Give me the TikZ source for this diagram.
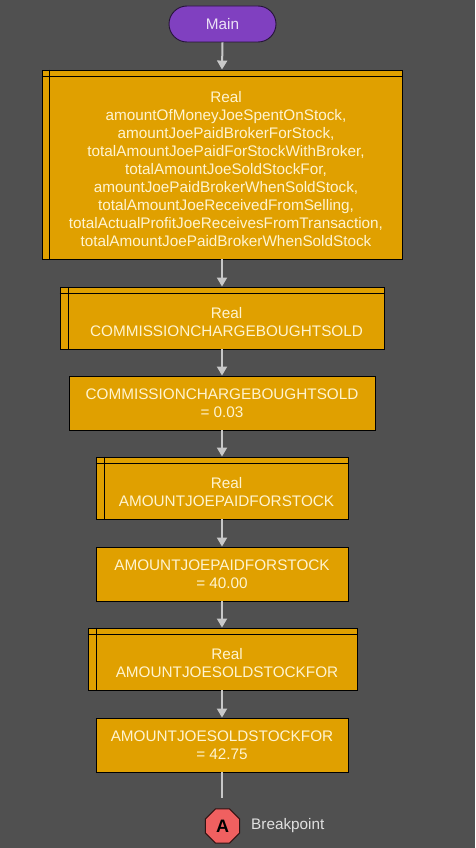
\documentclass[tikz,border=0pt]{standalone}
\usepackage{fontspec}
\setmainfont{Liberation Sans}
\usetikzlibrary{arrows.meta,shapes.geometric,calc}
\definecolor{bgc}{HTML}{505050}
\definecolor{boxc}{HTML}{E0A000}
\definecolor{txc}{HTML}{FFF4D0}
\definecolor{mainc}{HTML}{8040C0}
\definecolor{arrc}{HTML}{C8C8C8}
\definecolor{bpc}{HTML}{F06060}
\tikzset{
  box/.style={draw=black, line width=0.9pt, fill=boxc, inner sep=0pt, minimum width=#1},
  txt/.style={text=txc, align=center, font=\fontsize{15.3}{18}\selectfont, inner sep=0pt},
  arr/.style={draw=arrc, line width=2pt, -{Triangle[length=9pt,width=10pt]}},
  lnk/.style={draw=arrc, line width=2pt},
  sep/.style={draw=black, line width=0.9pt}
}
\begin{document}
\begin{tikzpicture}[x=1pt,y=-1pt]
\fill[bgc] (0,0) rectangle (475,848);
\useasboundingbox (0,0) rectangle (475,848);

% Main
\node[draw=black!70!mainc, line width=0.9pt, fill=mainc, rounded corners=18pt,
  minimum width=107pt, minimum height=36pt, inner sep=0pt,
  text=white!85!mainc, font=\fontsize{15.3}{18}\selectfont] (main) at (222.5,24) {Main};

% declaration 1
\node[box=360pt, minimum height=189pt] (d1) at (222,164.5) {};
\draw[sep] ([xshift=8pt]d1.north west) -- ([xshift=8pt]d1.south west);
\draw[sep] ([yshift=-7pt]d1.north west) -- ([yshift=-7pt]d1.north east);
\node[txt] (t1) at (226,169.5) {Real\\amountOfMoneyJoeSpentOnStock,\\amountJoePaidBrokerForStock,\\totalAmountJoePaidForStockWithBroker,\\totalAmountJoeSoldStockFor,\\amountJoePaidBrokerWhenSoldStock,\\totalAmountJoeReceivedFromSelling,\\totalActualProfitJoeReceivesFromTransaction,\\totalAmountJoePaidBrokerWhenSoldStock};

% declaration 2
\node[box=324pt, minimum height=62pt] (d2) at (222,318) {};
\draw[sep] ([xshift=9pt]d2.north west) -- ([xshift=9pt]d2.south west);
\draw[sep] ([yshift=-7pt]d2.north west) -- ([yshift=-7pt]d2.north east);
\node[txt] (t2) at (226.5,322.5) {Real\\COMMISSIONCHARGEBOUGHTSOLD};

% assignment 1
\node[box=306pt, minimum height=54pt] (a1) at (222,403) {};
\node[txt] (t3) at (222,403.5) {COMMISSIONCHARGEBOUGHTSOLD\\= 0.03};

% declaration 3
\node[box=252pt, minimum height=62pt] (d3) at (222,488) {};
\draw[sep] ([xshift=9pt]d3.north west) -- ([xshift=9pt]d3.south west);
\draw[sep] ([yshift=-7pt]d3.north west) -- ([yshift=-7pt]d3.north east);
\node[txt] (t4) at (226.5,492.5) {Real\\AMOUNTJOEPAIDFORSTOCK};

% assignment 2
\node[box=252pt, minimum height=54pt] (a2) at (222,574) {};
\node[txt] (t5) at (222,574.5) {AMOUNTJOEPAIDFORSTOCK\\= 40.00};

% declaration 4
\node[box=269pt, minimum height=62pt] (d4) at (222.5,659) {};
\draw[sep] ([xshift=9pt]d4.north west) -- ([xshift=9pt]d4.south west);
\draw[sep] ([yshift=-7pt]d4.north west) -- ([yshift=-7pt]d4.north east);
\node[txt] (t6) at (227,663.5) {Real\\AMOUNTJOESOLDSTOCKFOR};

% assignment 3
\node[box=252pt, minimum height=54pt] (a3) at (222,745) {};
\node[txt] (t7) at (222,745.5) {AMOUNTJOESOLDSTOCKFOR\\= 42.75};

% breakpoint
\coordinate (end) at (222,798);
\node[regular polygon, regular polygon sides=8, draw=black!80!bpc, line width=1pt,
  fill=bpc, minimum size=37pt, inner sep=0pt, font=\fontsize{18}{19}\selectfont\bfseries]
  (bp) at (222.5,826) {A};
\node[anchor=west, text=white!88!black, font=\fontsize{15.3}{18}\selectfont, inner sep=0pt]
  (bpl) at (251,826) {Breakpoint};

% connectors
\draw[arr] (main.south) -- (d1.north);
\draw[arr] (d1.south) -- (d2.north);
\draw[arr] (d2.south) -- (a1.north);
\draw[arr] (a1.south) -- (d3.north);
\draw[arr] (d3.south) -- (a2.north);
\draw[arr] (a2.south) -- (d4.north -| a2.north);
\draw[arr] (d4.south -| a3.north) -- (a3.north);
\draw[lnk] (a3.south) -- (end);
\end{tikzpicture}
\end{document}
